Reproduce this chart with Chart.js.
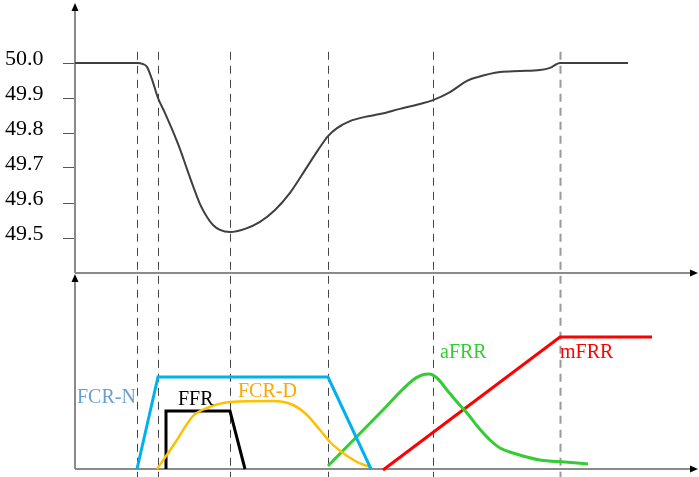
<!DOCTYPE html>
<html lang="en">
<head>
    <meta charset="UTF-8">
    <title>Frequency and reserves</title>
    <script src="https://cdn.jsdelivr.net/npm/chart.js"></script>
    <style>
        body {
            margin: 0;
            padding: 0;
            background: #ffffff;
        }
        #wrap {
            width: 699px;
            height: 477px;
        }
    </style>
</head>
<body>
    <div id="wrap"><canvas id="reserveChart"></canvas></div>
    <script>
        // time axis (arbitrary units), event markers
        const eventTimes = [62, 83, 155, 253, 358, 485];
        const freqTicks = [49.5, 49.6, 49.7, 49.8, 49.9, 50.0];

        // grid frequency (Hz)
        const freqTime = [0, 62, 68, 72, 77, 83, 90, 97, 105, 112, 118, 125, 132, 138, 145, 155,
            170, 185, 200, 215, 230, 243, 253, 262, 275, 290, 305, 325, 345, 358, 375, 392, 403,
            425, 445, 465, 475, 485, 553];
        const freqHz = [50.0, 50.0, 49.997, 49.989, 49.953, 49.9, 49.857, 49.811, 49.754, 49.697,
            49.649, 49.597, 49.56, 49.537, 49.523, 49.517, 49.526, 49.546, 49.58, 49.629, 49.694,
            49.751, 49.791, 49.814, 49.834, 49.846, 49.854, 49.869, 49.883, 49.894, 49.917, 49.949,
            49.96, 49.974, 49.977, 49.98, 49.986, 50.0, 50.0];

        // reserve activation (arbitrary units)
        const fcrnTime = [62, 83, 253, 296];
        const fcrnVal = [0, 92, 92, 0];
        const ffrTime = [91, 91, 155, 170];
        const ffrVal = [0, 58, 58, 0];
        const fcrdTime = [82, 100, 118, 132, 155, 198, 218, 232, 245, 255, 268, 282, 295];
        const fcrdVal = [0, 26, 53, 61, 67, 68, 64, 54, 39, 27, 16, 7, 2];
        const afrrTime = [253, 305, 338, 347, 354, 362, 372, 382, 392, 403, 415, 425, 438, 465, 490, 513];
        const afrrVal = [3, 56, 89, 94, 95, 91, 79, 67, 56, 42, 29, 21, 16, 9, 7, 5];
        const mfrrTime = [308, 485, 577];
        const mfrrVal = [-1, 132, 132];

        const pts = (xs, ys) => xs.map((x, i) => ({ x: x, y: ys[i] }));

        // pixel layout of the plot: 50.0 Hz at y=63, 0.1 Hz per 35 px, area 5..469
        const areaH = 464;
        const hzMax = 50.0 + 58 / 350;
        const hzMin = hzMax - areaH / 350;

        function arrow(ctx, x, y, dir) {
            ctx.beginPath();
            if (dir === 'up') {
                ctx.moveTo(x, y); ctx.lineTo(x - 3.5, y + 8); ctx.lineTo(x + 3.5, y + 8);
            } else {
                ctx.moveTo(x, y); ctx.lineTo(x - 8, y - 3.5); ctx.lineTo(x - 8, y + 3.5);
            }
            ctx.closePath();
            ctx.fill();
        }

        const framePlugin = {
            id: 'frame',
            beforeDatasetsDraw(chart) {
                const { ctx, chartArea, scales } = chart;
                const left = chartArea.left;
                const right = chartArea.right;
                const midY = scales.yTop.getPixelForValue(49.4);
                const botY = scales.yBot.getPixelForValue(0);
                ctx.save();
                // event markers
                eventTimes.forEach((t, i) => {
                    const x = Math.round(scales.x.getPixelForValue(t)) + 0.5;
                    const last = i === eventTimes.length - 1;
                    ctx.strokeStyle = last ? '#9a9a9a' : '#444444';
                    ctx.lineWidth = last ? 2 : 1;
                    ctx.setLineDash([8, 6]);
                    ctx.beginPath();
                    ctx.moveTo(x, scales.yTop.getPixelForValue(50.032));
                    ctx.lineTo(x, chart.height);
                    ctx.stroke();
                });
                ctx.setLineDash([]);
                // axes
                ctx.strokeStyle = '#8a8a8a';
                ctx.lineWidth = 2;
                ctx.beginPath();
                ctx.moveTo(left, chartArea.top + 4); ctx.lineTo(left, midY);
                ctx.moveTo(left, midY); ctx.lineTo(right - 4, midY);
                ctx.moveTo(left, midY + 5); ctx.lineTo(left, botY);
                ctx.moveTo(left, botY); ctx.lineTo(right - 4, botY);
                ctx.stroke();
                ctx.fillStyle = '#000000';
                arrow(ctx, left, chartArea.top - 2, 'up');
                arrow(ctx, left, midY + 1, 'up');
                arrow(ctx, right + 1, midY, 'right');
                arrow(ctx, right + 1, botY, 'right');
                ctx.restore();
            },
            afterDatasetsDraw(chart, args, opts) {
                const { ctx, scales } = chart;
                ctx.save();
                ctx.font = '20px "Liberation Serif", "Times New Roman", serif';
                ctx.textAlign = 'left';
                ctx.textBaseline = 'alphabetic';
                opts.labels.forEach(l => {
                    ctx.fillStyle = l.color;
                    ctx.fillText(l.text, scales.x.getPixelForValue(l.x), scales.yBot.getPixelForValue(l.y));
                });
                ctx.restore();
            }
        };

        const line = (label, data, color, width, axis) => ({
            label: label,
            data: data,
            yAxisID: axis,
            borderColor: color,
            borderWidth: width,
            pointRadius: 0,
            fill: false,
            clip: false,
            tension: 0
        });

        const datasets = [
            Object.assign(line('Frequency', pts(freqTime, freqHz), '#3f3f3f', 2, 'yTop'),
                { tension: 0.4, cubicInterpolationMode: 'monotone' }),
            line('FCR-N', pts(fcrnTime, fcrnVal), '#00b0f0', 3, 'yBot'),
            Object.assign(line('FCR-D', pts(fcrdTime, fcrdVal), '#ffc000', 2.5, 'yBot'),
                { tension: 0.4, cubicInterpolationMode: 'monotone' }),
            line('FFR', pts(ffrTime, ffrVal), '#000000', 3, 'yBot'),
            Object.assign(line('aFRR', pts(afrrTime, afrrVal), '#33cc33', 3, 'yBot'),
                { tension: 0.4, cubicInterpolationMode: 'monotone' }),
            line('mFRR', pts(mfrrTime, mfrrVal), '#ff0000', 3, 'yBot')
        ];

        new Chart(document.getElementById('reserveChart'), {
            type: 'line',
            data: { datasets: datasets },
            plugins: [framePlugin],
            options: {
                responsive: true,
                maintainAspectRatio: false,
                animation: false,
                layout: { padding: { left: 5, right: 2, top: 5, bottom: 8 } },
                plugins: {
                    legend: { display: false },
                    tooltip: { enabled: false },
                    frame: {
                        labels: [
                            { text: 'FCR-N', x: 2, y: 66, color: '#6a9fd4' },
                            { text: 'FFR', x: 103, y: 64, color: '#000000' },
                            { text: 'FCR-D', x: 163, y: 72, color: '#ffa500' },
                            { text: 'aFRR', x: 365, y: 111, color: '#33cc33' },
                            { text: 'mFRR', x: 485, y: 111, color: '#ff0000' }
                        ]
                    }
                },
                scales: {
                    x: { type: 'linear', min: 0, max: 622, display: false },
                    yTop: {
                        type: 'linear',
                        position: 'left',
                        min: hzMin,
                        max: hzMax,
                        afterBuildTicks: s => { s.ticks = freqTicks.map(v => ({ value: v })); },
                        afterFit: s => { s.width = 70; s.paddingTop = 0; s.paddingBottom = 0; },
                        border: { display: false },
                        grid: { drawOnChartArea: false, tickLength: 12, color: '#555555', lineWidth: 1 },
                        ticks: {
                            crossAlign: 'far',
                            labelOffset: -4,
                            color: '#000000',
                            font: { family: '"Liberation Serif", "Times New Roman", serif', size: 22 },
                            callback: v => v.toFixed(1)
                        }
                    },
                    yBot: { type: 'linear', min: 0, max: areaH, display: false }
                }
            }
        });
    </script>
</body>
</html>
